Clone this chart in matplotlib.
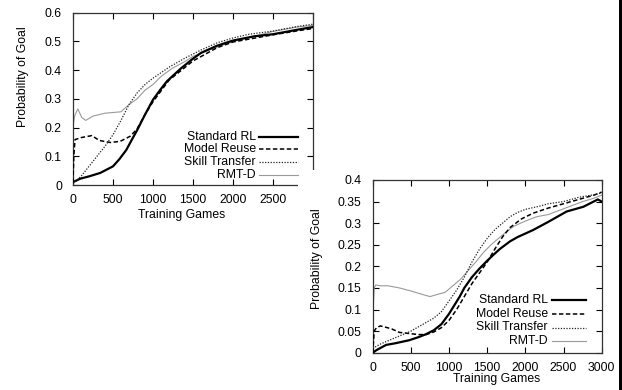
"""Two learning-curve panels: probability of goal vs training games."""

import matplotlib
matplotlib.use("Agg")
import matplotlib.pyplot as plt
import matplotlib.lines as mlines
import matplotlib.patches as mpatches

W, H = 622, 390
FS = 8.8
plt.rcParams["font.family"] = ["Liberation Sans", "DejaVu Sans"]
plt.rcParams["font.size"] = FS
plt.rcParams["lines.scale_dashes"] = False

SERIES = ["Standard RL", "Model Reuse", "Skill Transfer", "RMT-D"]
STYLE = {
    "Standard RL":    {"color": "#000000", "ls": "-",  "lw": 1.6},
    "Model Reuse":    {"color": "#000000", "ls": (0, (3.2, 1.8)), "lw": 1.1},
    "Skill Transfer": {"color": "#222222", "ls": (0, (0.9, 1.1)), "lw": 0.9},
    "RMT-D":          {"color": "#9a9a9a", "ls": "-",  "lw": 0.8},
}

# ---- top panel (0.6 scale) ----
top_std_x = [0, 90, 200, 340, 500, 580, 666, 740, 800, 900, 1000, 1100, 1177, 1345, 1500, 1600,
             1800, 2000, 2270, 2500, 2830, 3000]
top_std_y = [0.010, 0.022, 0.030, 0.042, 0.065, 0.090, 0.122, 0.160, 0.190, 0.245, 0.297, 0.335,
             0.362, 0.405, 0.440, 0.460, 0.485, 0.503, 0.518, 0.525, 0.542, 0.550]

top_mr_x = [0, 10, 25, 100, 235, 330, 465, 590, 716, 800, 900, 1000, 1200, 1500, 1800, 2000,
            2500, 2830, 3000]
top_mr_y = [0.010, 0.100, 0.158, 0.165, 0.172, 0.155, 0.148, 0.152, 0.170, 0.195, 0.245, 0.290,
            0.365, 0.432, 0.478, 0.498, 0.523, 0.538, 0.545]

top_st_x = [0, 100, 200, 300, 400, 500, 600, 700, 800, 900, 1000, 1200, 1400, 1600, 1800, 2000,
            2200, 2500, 2800, 3000]
top_st_y = [0.005, 0.030, 0.065, 0.100, 0.135, 0.175, 0.225, 0.280, 0.320, 0.350, 0.372, 0.410,
            0.442, 0.470, 0.495, 0.512, 0.525, 0.536, 0.552, 0.560]

top_rmt_x = [0, 20, 60, 110, 160, 250, 400, 600, 700, 800, 900, 1000, 1100, 1250, 1400, 1500,
             1700, 1900, 2100, 2300, 2500, 2800, 3000]
top_rmt_y = [0.205, 0.240, 0.265, 0.235, 0.225, 0.240, 0.250, 0.255, 0.280, 0.300, 0.330, 0.350,
             0.378, 0.408, 0.430, 0.448, 0.470, 0.490, 0.508, 0.520, 0.535, 0.550, 0.556]

# ---- bottom panel (0.4 scale) ----
bot_std_x = [0, 50, 175, 300, 480, 600, 700, 800, 900, 1000, 1140, 1200, 1300, 1400, 1500,
             1577, 1664, 1800, 1900, 2100, 2300, 2540, 2760, 2950, 3000]
bot_std_y = [0.000, 0.006, 0.018, 0.022, 0.029, 0.036, 0.043, 0.052, 0.066, 0.090, 0.130, 0.150,
             0.175, 0.195, 0.213, 0.226, 0.240, 0.258, 0.268, 0.284, 0.303, 0.327, 0.338,
             0.355, 0.350]

bot_mr_x = [0, 20, 50, 100, 150, 250, 350, 450, 600, 700, 800, 900, 1000, 1100, 1200, 1300,
            1400, 1500, 1600, 1700, 1800, 1950, 2100, 2300, 2500, 2700, 2900, 3000]
bot_mr_y = [0.000, 0.050, 0.058, 0.062, 0.060, 0.055, 0.047, 0.045, 0.042, 0.042, 0.048, 0.058,
            0.075, 0.100, 0.130, 0.160, 0.185, 0.210, 0.240, 0.268, 0.290, 0.310, 0.323,
            0.335, 0.345, 0.355, 0.365, 0.372]

bot_st_x = [0, 100, 300, 500, 700, 800, 900, 1000, 1100, 1200, 1300, 1400, 1500, 1600, 1700,
            1800, 1900, 2000, 2200, 2300, 2500, 2700, 2900, 3000]
bot_st_y = [0.010, 0.020, 0.035, 0.050, 0.070, 0.080, 0.095, 0.120, 0.145, 0.175, 0.210, 0.240,
            0.265, 0.285, 0.300, 0.315, 0.325, 0.332, 0.340, 0.345, 0.350, 0.360, 0.366, 0.370]

bot_rmt_x = [0, 20, 40, 100, 200, 350, 500, 650, 750, 850, 950, 1050, 1150, 1250, 1350, 1450,
             1550, 1650, 1750, 1850, 2000, 2150, 2300, 2450, 2600, 2750, 2900, 3000]
bot_rmt_y = [0.080, 0.150, 0.157, 0.155, 0.155, 0.150, 0.143, 0.135, 0.130, 0.135, 0.140, 0.155,
             0.170, 0.190, 0.210, 0.232, 0.250, 0.265, 0.280, 0.293, 0.305, 0.315, 0.320,
             0.330, 0.340, 0.350, 0.358, 0.365]

TOP = {"Standard RL": (top_std_x, top_std_y), "Model Reuse": (top_mr_x, top_mr_y),
       "Skill Transfer": (top_st_x, top_st_y), "RMT-D": (top_rmt_x, top_rmt_y)}
BOT = {"Standard RL": (bot_std_x, bot_std_y), "Model Reuse": (bot_mr_x, bot_mr_y),
       "Skill Transfer": (bot_st_x, bot_st_y), "RMT-D": (bot_rmt_x, bot_rmt_y)}

TOP_YTICKS = [0, 0.1, 0.2, 0.3, 0.4, 0.5, 0.6]
TOP_YLABELS = ["0", "0.1", "0.2", "0.3", "0.4", "0.5", "0.6"]
BOT_YTICKS = [0, 0.05, 0.1, 0.15, 0.2, 0.25, 0.3, 0.35, 0.4]
BOT_YLABELS = ["0", "0.05", "0.1", "0.15", "0.2", "0.25", "0.3", "0.35", "0.4"]
XTICKS = [0, 500, 1000, 1500, 2000, 2500, 3000]


def fx(px):
    return px / W


def fy(py):
    return 1 - py / H


def rect(left, top, right, bottom):
    return [fx(left), fy(bottom), fx(right) - fx(left), fy(top) - fy(bottom)]


def style_axes(ax, yticks, ylabels, ymax, xlabels):
    ax.set_xlim(0, 3000)
    ax.set_ylim(0, ymax)
    ax.set_xticks(XTICKS)
    ax.set_xticklabels(xlabels)
    ax.set_yticks(yticks)
    ax.set_yticklabels(ylabels)
    ax.tick_params(direction="in", length=4, width=0.8, top=True, right=True,
                   labelsize=FS, colors="#000000")
    ax.tick_params(axis="y", pad=8)
    ax.tick_params(axis="x", pad=6.5)
    for sp in ax.spines.values():
        sp.set_linewidth(0.9)
        sp.set_color("#333333")


def draw_legend(fig, text_right, line_x0, line_x1, rows):
    for name, ry in zip(SERIES, rows):
        s = STYLE[name]
        fig.text(fx(text_right), fy(ry), name, ha="right", va="center", fontsize=FS, zorder=10)
        fig.add_artist(mlines.Line2D([fx(line_x0), fx(line_x1)], [fy(ry), fy(ry)],
                                     color=s["color"], ls=s["ls"], lw=s["lw"], zorder=10))


fig = plt.figure(figsize=(W / 100, H / 100), dpi=100)
fig.patch.set_facecolor("white")

# top-left panel
ax1 = fig.add_axes(rect(73, 12.7, 313, 185))
for name in SERIES:
    x, y = TOP[name]
    s = STYLE[name]
    ax1.plot(x, y, color=s["color"], ls=s["ls"], lw=s["lw"], zorder=3 if name != "RMT-D" else 2)
style_axes(ax1, TOP_YTICKS, TOP_YLABELS, 0.6, ["0", "500", "1000", "1500", "2000", "2500", ""])
fig.text(fx(23), fy(77), "Probability of Goal", rotation=90, ha="center", va="center", fontsize=FS)
fig.text(fx(182), fy(215), "Training Games", ha="center", va="center", fontsize=FS)
draw_legend(fig, 256, 259, 298, [136.7, 149.3, 162.0, 174.7])

# white sheet of the second panel lying over the first one
fig.add_artist(mpatches.Rectangle((fx(298), 0), fx(619) - fx(298), fy(170), transform=fig.transFigure,
                                  facecolor="white", edgecolor="none", zorder=5))
fig.add_artist(mpatches.Rectangle((fx(619), 0), fx(622) - fx(619), 1, transform=fig.transFigure,
                                  facecolor="black", edgecolor="none", zorder=6))

# bottom-right panel
ax2 = fig.add_axes(rect(372.7, 180, 601.7, 352.7))
ax2.set_zorder(7)
for name in SERIES:
    x, y = BOT[name]
    s = STYLE[name]
    ax2.plot(x, y, color=s["color"], ls=s["ls"], lw=s["lw"], zorder=3 if name != "RMT-D" else 2)
style_axes(ax2, BOT_YTICKS, BOT_YLABELS, 0.4, [str(t) for t in XTICKS])
t1 = fig.text(fx(317), fy(259), "Probability of Goal", rotation=90, ha="center", va="center", fontsize=FS)
t2 = fig.text(fx(497), fy(379), "Training Games", ha="center", va="center", fontsize=FS)
t1.set_zorder(8)
t2.set_zorder(8)
draw_legend(fig, 548, 551.7, 586, [300.3, 314.0, 327.5, 341.0])

fig.savefig("out.png", dpi=100, facecolor="white")
